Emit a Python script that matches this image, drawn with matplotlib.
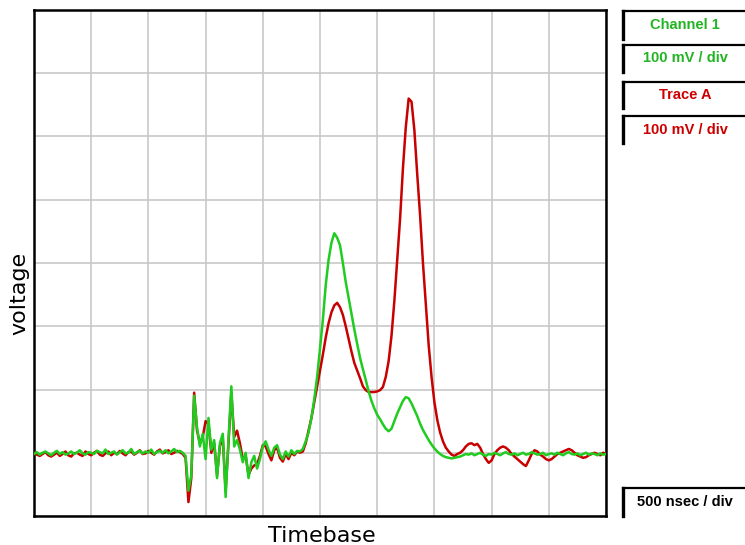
import numpy as np
import matplotlib.pyplot as plt
from matplotlib.lines import Line2D

# scope capture, 25 ns per sample, values in mV
channel_1 = [
    # pre-trigger baseline
    -2, 1, -3, 0, 2, -1, -4, 0, 3, -2,
    1, -3, -1, 2, -2, 0, 4, -1, -3, 1,
    0, -2, 3, 1, -1, 5, -2, 0, 2, -3,
    1, 4, -1, 0, 6, -2, 1, 3, -1, 2,
    0, 5, -2, 1, 3, 0, 4, -1, 2, 6,
    1, 3, 0,
    # ringing
    -5, -60, -35, 90, 40, 10, 30, -10, 55, 5,
    20, -40, 15, 30, -70, 20, 105, 10, 20, 5,
    -15, 0, -40, -15, -5, -25, -10, 10, 18, 5,
    -5, 8, 12, -3, -10, 2, -6, 4, -2, 3,
    # pulse
    2, 6, 18, 32, 55, 85, 120, 165, 210, 265,
    305, 332, 347, 340, 328, 300, 270, 245, 220, 195,
    172, 150, 132, 115, 97, 82, 70, 60, 53, 45,
    38, 34, 38, 50, 62, 72, 82, 88, 86, 78,
    68, 58, 46, 36, 28, 20, 13, 7, 2, -2,
    -5, -7, -8, -9, -8, -7,
    # tail
    -6, -4, -2, -3, -1, -4, -2, 0, -3, -5,
    -2, -3, 0, -2, -4, -1, 1, -2, -3, -1,
    -4, -2, 0, -3, -2, 1, -1, -3, -2, 0,
    -4, -2, -1, -3, 0, -2, -4, -1, 1, -2,
    -3, -1, -4, -2, 0, -3, -1, -2, -4, -1,
    -3, -2,
]

trace_a = [
    0, -3, -5, -2, 1, -4, -6, -3, 0, -5,
    -2, 2, -4, -6, -1, 0, -3, -5, 2, -2,
    -4, 0, 3, -3, -5, -1, 2, -4, 0, -2,
    3, -1, -4, 1, 2, -3, 0, 4, -2, -1,
    3, 0, -3, 2, 5, -1, 1, 4, -2, 0,
    3, 1, -2,
    -8, -78, -40, 95, 35, 15, 25, 50, 45, 0,
    15, -35, 10, 25, -60, 15, 95, 25, 35, 15,
    -10, -5, -35, -25, -20, -18, -5, 12, 10, -2,
    -12, 4, 8, -8, -14, -2, -10, 0, -4, 2,
    0, 2, 15, 35, 55, 80, 105, 130, 155, 182,
    205, 222, 233, 237, 230, 218, 200, 180, 160, 142,
    130, 118, 105, 99, 96, 96, 96, 97, 99, 104,
    120, 145, 185, 240, 305, 370, 450, 515, 560, 555,
    510, 440, 375, 300, 235, 170, 120, 80, 52, 32,
    18, 8, 2, -3, -5, -2,
    0, 4, 10, 14, 15, 12, 14, 8, -2, -10,
    -16, -12, -2, 4, 8, 10, 8, 4, -2, -6,
    -10, -14, -18, -21, -12, -2, 4, 2, -3, -6,
    -10, -12, -10, -6, -2, 0, 2, 4, 6, 4,
    0, -4, -6, -8, -7, -4, -2, 0, -2, -4,
    0, -2,
]

sample_ns = 25
div_ns = 500
div_mv = 100

W, H = 745, 545
fig = plt.figure(figsize=(W / 100, H / 100), dpi=100)
ax = fig.add_axes([34 / W, 1 - 516 / H, 572 / W, 506 / H])

t1 = np.arange(len(channel_1)) * sample_ns
ta = np.arange(len(trace_a)) * sample_ns
ax.plot(ta, trace_a, color='#c80000', lw=1.8, zorder=3)
ax.plot(t1, channel_1, color='#1fcc1f', lw=1.8, zorder=4)

ax.set_xlim(0, 10 * div_ns)
ax.set_ylim(-1 * div_mv, 7 * div_mv)
ax.set_xticks(np.arange(0, 10 * div_ns + 1, div_ns))
ax.set_yticks(np.arange(-div_mv, 7 * div_mv + 1, div_mv))
ax.tick_params(length=0, labelbottom=False, labelleft=False)
ax.grid(True, color='#c8c8c8', lw=1.2)
ax.set_axisbelow(True)
for s in ax.spines.values():
    s.set_color('black')
    s.set_linewidth(1.8)

fig.text(322 / W, 1 - 536 / H, 'Timebase', ha='center', va='center', fontsize=16)
fig.text(19 / W, 1 - 293 / H, 'voltage', ha='center', va='center',
         rotation=90, fontsize=16)


def label_box(top, bottom, text, color):
    # top and left black edges, like the scope's readout panels
    y0, y1 = 1 - top / H, 1 - bottom / H
    x0 = 623 / W
    fig.add_artist(Line2D([x0, 1], [y0, y0], transform=fig.transFigure,
                          color='black', lw=1.6))
    fig.add_artist(Line2D([x0, x0], [y0, y1], transform=fig.transFigure,
                          color='black', lw=2.4))
    fig.text((x0 + 1) / 2 + 1 / W, (y0 + y1) / 2, text, ha='center', va='center',
             color=color, fontsize=10.5, weight='bold', family='Liberation Sans')


label_box(11, 39, 'Channel 1', '#22b422')
label_box(45, 72, '100 mV / div', '#22b422')
label_box(82, 108, 'Trace A', '#cc0000')
label_box(116, 143, '100 mV / div', '#cc0000')
label_box(488, 516, '500 nsec / div', 'black')

fig.savefig('out.png', dpi=100)
